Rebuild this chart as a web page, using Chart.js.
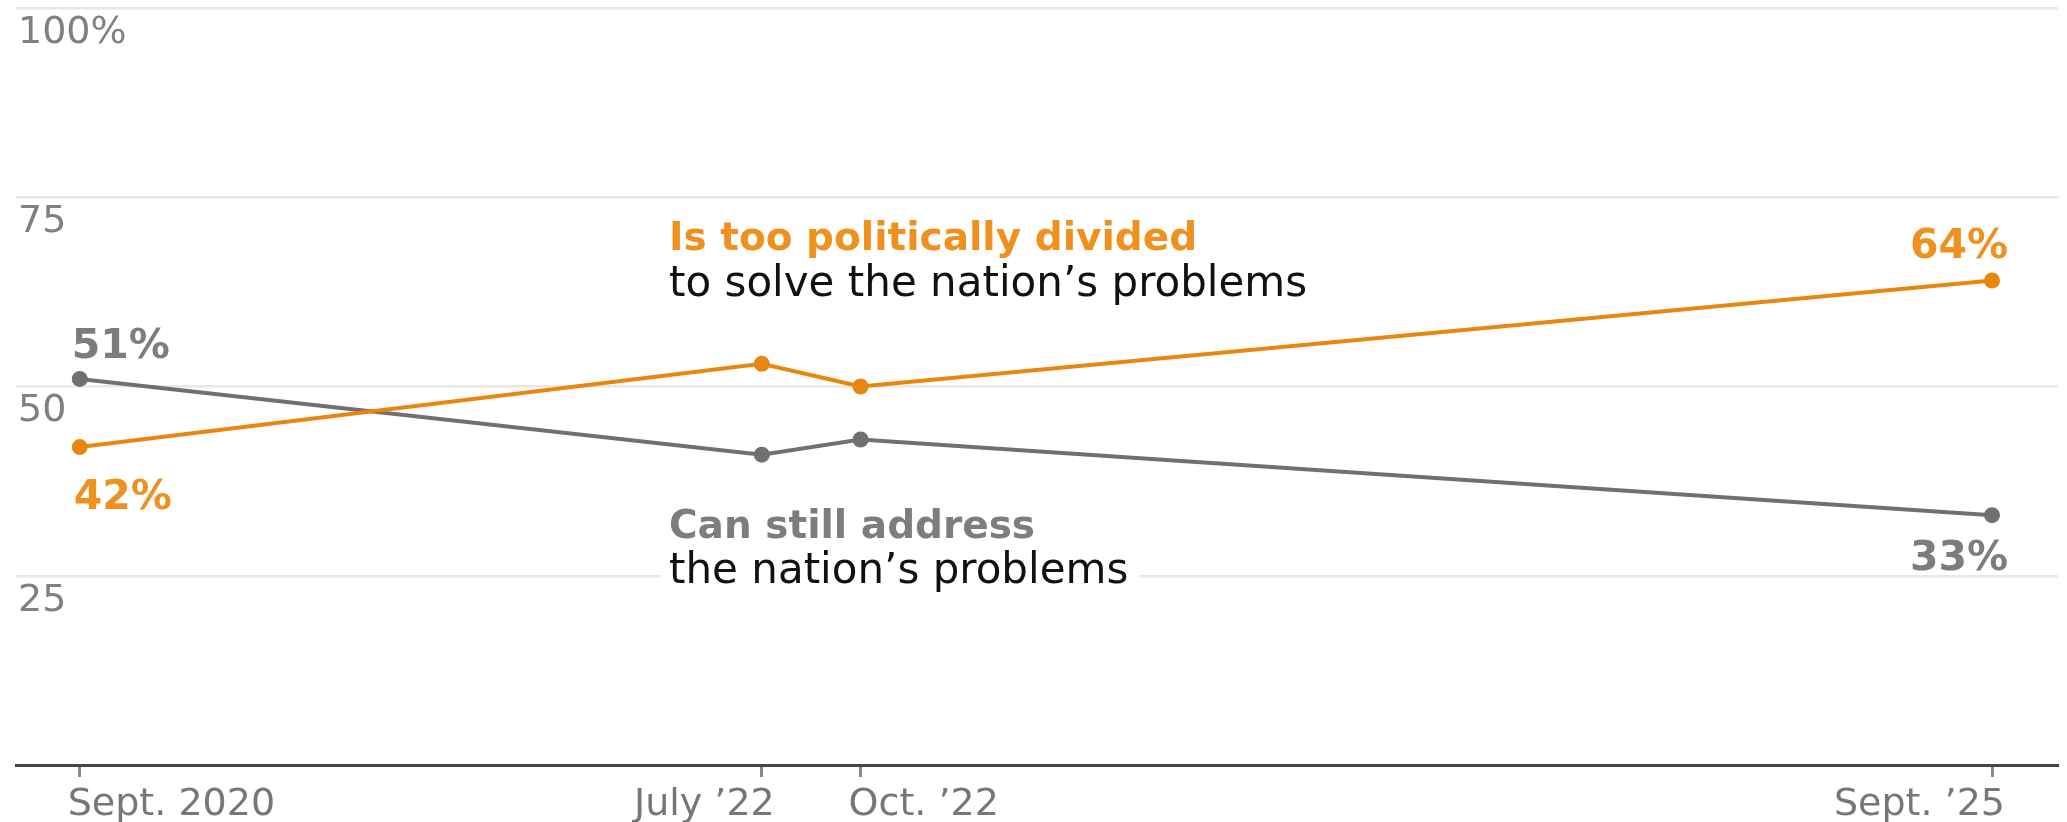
<!DOCTYPE html>
<html>
<head>
<meta charset="utf-8">
<script src="https://cdn.jsdelivr.net/npm/chart.js@4"></script>
<style>
  body { margin: 0; background: #fff; }
  #wrap { width: 2067px; height: 822px; position: relative; }
</style>
</head>
<body>
<div id="wrap"><canvas id="myChart"></canvas></div>
<script>
// survey dates, as months after Sept. 2020
const surveyMonths = [0, 21.4, 24.5, 60];
const dateLabels = ['Sept. 2020', "July \u201922", "Oct. \u201922", "Sept. \u201925"];
// share saying the country is too politically divided
const dividedValues = [42, 53, 50, 64];
// share saying it can still address the nation's problems
const addressValues = [51, 41, 43, 33];
const yTicks = [0, 25, 50, 75, 100];

const ORANGE = '#e8870e';
const ORANGE_TXT = '#ef911f';
const GRAY = '#707070';
const GRAY_TXT = '#7d7d7d';
const FONT = '"DejaVu Sans", Verdana, sans-serif';

// draw the date labels, end value labels and the two notes+++++++++++
const labelPlugin = {
    id: 'labels',
    afterDatasetsDraw(chart) {
        const ctx = chart.ctx;
        const x = chart.scales.x;
        const y = chart.scales.y;
        ctx.save();
        ctx.textBaseline = 'alphabetic';

        // x axis labels, first and third start at the tick, the others end there
        ctx.font = '38px ' + FONT;
        ctx.fillStyle = '#777';
        dateLabels.forEach((lab, i) => {
            const px = x.getPixelForValue(surveyMonths[i]);
            if (i % 2 === 0) {
                ctx.textAlign = 'left';
                ctx.fillText(lab, px - 12, 815);
            } else {
                ctx.textAlign = 'right';
                ctx.fillText(lab, px + 13, 815);
            }
        });

        // first and last values of each line
        const last = surveyMonths.length - 1;
        ctx.font = 'bold 41px ' + FONT;
        ctx.textAlign = 'left';
        ctx.fillStyle = GRAY_TXT;
        ctx.fillText(addressValues[0] + '%', x.getPixelForValue(surveyMonths[0]) - 8, y.getPixelForValue(addressValues[0]) - 21);
        ctx.fillStyle = ORANGE_TXT;
        ctx.fillText(dividedValues[0] + '%', x.getPixelForValue(surveyMonths[0]) - 6, y.getPixelForValue(dividedValues[0]) + 62);
        ctx.textAlign = 'right';
        ctx.fillText(dividedValues[last] + '%', x.getPixelForValue(surveyMonths[last]) + 16, y.getPixelForValue(dividedValues[last]) - 23);
        ctx.fillStyle = GRAY_TXT;
        ctx.fillText(addressValues[last] + '%', x.getPixelForValue(surveyMonths[last]) + 16, y.getPixelForValue(addressValues[last]) + 55);

        // series notes
        const noteX = 669;
        ctx.textAlign = 'left';
        ctx.font = 'bold 39px ' + FONT;
        ctx.fillStyle = ORANGE_TXT;
        ctx.fillText('Is too politically divided', noteX, 250);
        ctx.font = '42px ' + FONT;
        ctx.fillStyle = '#111';
        ctx.fillText('to solve the nation\u2019s problems', noteX, 296);

        ctx.font = 'bold 39px ' + FONT;
        ctx.fillStyle = GRAY_TXT;
        ctx.fillText('Can still address', noteX, 538);
        // white box so the 25 gridline stops round the text
        ctx.font = '42px ' + FONT;
        const w = ctx.measureText('the nation\u2019s problems').width;
        ctx.fillStyle = '#fff';
        ctx.fillRect(noteX - 9, 556, w + 20, 36);
        ctx.fillStyle = '#111';
        ctx.fillText('the nation\u2019s problems', noteX, 583);
        ctx.restore();
    }
};

const ctx = document.getElementById('myChart').getContext('2d');
const myChart = new Chart(ctx, {
    type: 'line',
    data: {
        datasets: [{
            label: 'Is too politically divided',
            data: surveyMonths.map((m, i) => ({x: m, y: dividedValues[i]})),
            borderColor: ORANGE,
            backgroundColor: ORANGE,
            borderWidth: 4,
            pointRadius: 8,
            pointBorderWidth: 0,
            pointBackgroundColor: ORANGE
        }, {
            label: 'Can still address',
            data: surveyMonths.map((m, i) => ({x: m, y: addressValues[i]})),
            borderColor: GRAY,
            backgroundColor: GRAY,
            borderWidth: 4,
            pointRadius: 8,
            pointBorderWidth: 0,
            pointBackgroundColor: GRAY
        }]
    },
    options: {
        responsive: true,
        maintainAspectRatio: false,
        animation: false,
        layout: { padding: { left: 16, right: 9, top: -4, bottom: 0 } },
        plugins: {
            legend: { display: false },
            tooltip: { enabled: false }
        },
        scales: {
            x: {
                type: 'linear',
                min: -2,
                max: 62.07,
                afterBuildTicks: axis => {
                    axis.ticks = surveyMonths.map(v => ({value: v}));
                },
                afterFit: axis => {
                    axis.height = 57;
                    axis.paddingLeft = 0;
                    axis.paddingRight = 0;
                },
                ticks: { display: false },
                grid: {
                    display: true,
                    drawOnChartArea: false,
                    drawTicks: true,
                    tickLength: 12,
                    tickColor: '#8a8a8a',
                    tickWidth: 3
                },
                border: { display: true, color: '#454545', width: 3 }
            },
            y: {
                min: 0,
                max: 100,
                afterBuildTicks: axis => {
                    axis.ticks = yTicks.map(v => ({value: v}));
                },
                afterFit: axis => {
                    axis.width = 0;
                    axis.paddingTop = 0;
                    axis.paddingBottom = 0;
                },
                ticks: {
                    mirror: true,
                    padding: 2,
                    labelOffset: 25,
                    color: '#808080',
                    font: { family: FONT, size: 38 },
                    callback: v => v === 100 ? '100%' : (v === 0 ? '' : v)
                },
                grid: {
                    drawTicks: false,
                    color: c => c.tick && c.tick.value === 0 ? 'rgba(0,0,0,0)' : '#e8e8e8',
                    lineWidth: 2.5
                },
                border: { display: false }
            }
        }
    },
    plugins: [labelPlugin]
});
</script>
</body>
</html>
